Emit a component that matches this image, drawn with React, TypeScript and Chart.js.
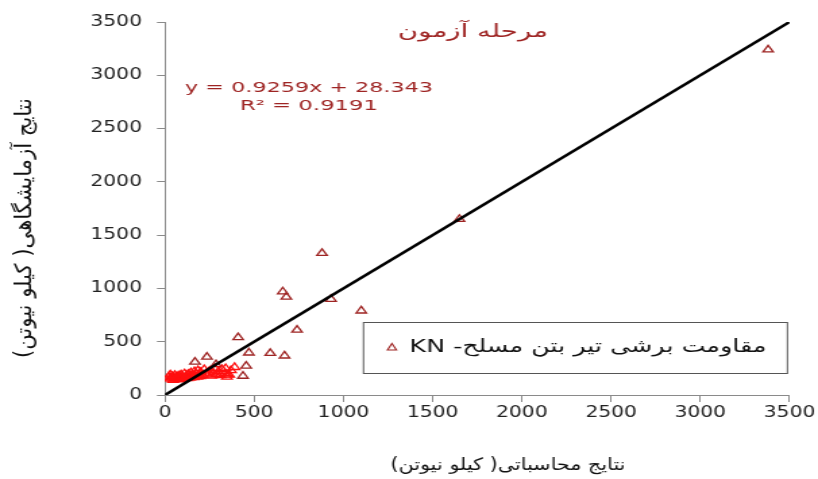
import React, { useEffect, useRef } from 'react';
import { Chart, registerables } from 'chart.js';

Chart.register(...registerables);

// calculated values (x) and laboratory values (y), kN
const calcX = [
  3380, 1650, 880, 660, 680, 930, 1100, 740, 410, 590, 470, 670, 455, 437, 340, 168, 235, 286, 360, 347,
  20, 25, 30, 35, 40, 45, 50, 55, 60, 65, 70, 75, 80, 85, 90, 95, 100, 105, 110, 115,
  120, 125, 130, 135, 140, 145, 150, 155, 160, 165, 170, 175, 180, 185, 190, 195, 200, 210,
  220, 230, 240, 250, 260, 270, 280, 290, 300, 310, 320, 335, 350, 370, 390,
];
const labY = [
  3240, 1650, 1330, 970, 920, 900, 790, 610, 540, 392, 396, 368, 272, 178, 250, 310, 357, 287, 188, 170,
  170, 150, 190, 160, 175, 140, 165, 185, 150, 170, 155, 180, 145, 165, 190, 160, 175, 150, 200, 165,
  180, 155, 195, 170, 160, 210, 175, 190, 165, 220, 180, 200, 170, 230, 190, 175, 215, 185,
  240, 200, 190, 225, 180, 210, 250, 195, 220, 185, 240, 205, 190, 230, 260,
];
// 1:1 reference line
const lineX = [0, 3500];
const lineY = [0, 3500];

const axisMin = 0;
const axisMax = 3500;
const axisStep = 500;

const seriesLabel = 'مقاومت برشی تیر بتن مسلح- KN';
const titleText = 'مرحله آزمون';
const eqText = 'y = 0.9259x + 28.343';
const r2Text = 'R² = 0.9191';
const xTitle = 'نتایج محاسباتی( کیلو نیوتن)';
const yTitle = 'نتایج آزمایشگاهی( کیلو نیوتن)';

const RED = '#9e2423';
const BRIGHT = '#ff1010';
const FONT = '"DejaVu Sans", Verdana, sans-serif';

// the whole picture is horizontally stretched, as in the reference
const W = 818;
const H = 479;
const S = 1.35;
const CW = Math.round(W / S);
const px = (v: number) => v / S;

function stretchText(
  ctx: CanvasRenderingContext2D,
  text: string,
  cx: number,
  cy: number,
  font: string,
  color: string,
  width: number,
  rtl: boolean,
  rotate = 0
) {
  ctx.save();
  ctx.font = font;
  ctx.fillStyle = color;
  ctx.textAlign = 'center';
  ctx.textBaseline = 'middle';
  (ctx as any).direction = rtl ? 'rtl' : 'ltr';
  const w = ctx.measureText(text).width;
  const sx = w > 0 ? width / w : 1;
  ctx.translate(cx, cy);
  ctx.rotate(rotate);
  ctx.scale(sx, 1);
  ctx.fillText(text, 0, 0);
  ctx.restore();
}

const annotations = {
  id: 'annotations',
  afterDraw(chart: any) {
    const ctx = chart.ctx as CanvasRenderingContext2D;
    stretchText(ctx, titleText, px(473), 32, `18px ${FONT}`, RED, px(150), true);
    stretchText(ctx, eqText, px(309), 88, `14.5px ${FONT}`, RED, px(248), false);
    stretchText(ctx, r2Text, px(309), 106, `14.5px ${FONT}`, RED, px(138), false);
    // legend
    ctx.save();
    ctx.fillStyle = '#ffffff';
    ctx.fillRect(px(363.5), 322.5, px(424), 51);
    ctx.strokeStyle = '#555555';
    ctx.lineWidth = 1;
    ctx.strokeRect(px(363.5), 322.5, px(424), 51);
    ctx.beginPath();
    ctx.moveTo(px(392), 343.5);
    ctx.lineTo(px(396.5), 350);
    ctx.lineTo(px(387.5), 350);
    ctx.closePath();
    ctx.strokeStyle = RED;
    ctx.lineWidth = 1.1;
    ctx.stroke();
    ctx.restore();
    stretchText(ctx, seriesLabel, px(588), 347, `18px ${FONT}`, '#111111', px(357), true);
    // axis titles
    stretchText(ctx, xTitle, px(508), 466, `17px ${FONT}`, '#111111', px(235), true);
    stretchText(ctx, yTitle, px(25), 228, `17px ${FONT}`, '#111111', 260, true, -Math.PI / 2);
  },
};

export default function App() {
  const ref = useRef<HTMLCanvasElement | null>(null);
  useEffect(() => {
    if (!ref.current) return;
    const points = calcX.map((x, i) => ({ x, y: labY[i] }));
    const line = lineX.map((x, i) => ({ x, y: lineY[i] }));
    const chart = new Chart(ref.current, {
      type: 'scatter',
      data: {
        datasets: [
          {
            type: 'line',
            label: 'line',
            data: line,
            borderColor: '#000000',
            borderWidth: 2.6,
            pointRadius: 0,
            showLine: true,
            fill: false,
          } as any,
          {
            label: seriesLabel,
            data: points,
            pointStyle: 'triangle',
            pointRadius: 4.4,
            pointBorderWidth: 1.3,
            pointBackgroundColor: 'rgba(255,255,255,0)',
            pointBorderColor: (c: any) => {
              const p = c.raw;
              return p && p.x < 400 && p.y < 265 ? BRIGHT : RED;
            },
          },
        ],
      },
      options: {
        animation: false,
        responsive: false,
        devicePixelRatio: 1,
        layout: { padding: { left: 0, right: px(28), top: 22, bottom: 0 } },
        plugins: { legend: { display: false }, tooltip: { enabled: false }, title: { display: false } },
        scales: {
          x: {
            type: 'linear',
            min: axisMin,
            max: axisMax,
            ticks: {
              stepSize: axisStep,
              color: '#222222',
              font: { family: FONT, size: 15 },
              padding: 2,
              maxRotation: 0,
              callback: (v: any) => String(v),
            },
            grid: { drawOnChartArea: false, drawTicks: true, tickLength: 7, color: '#8a8a8a' },
            border: { display: true, color: '#8a8a8a', width: 1 },
            afterFit: (s: any) => { s.height = H - 395; },
          },
          y: {
            type: 'linear',
            min: axisMin,
            max: axisMax,
            ticks: {
              stepSize: axisStep,
              color: '#222222',
              font: { family: FONT, size: 15 },
              padding: px(15),
              callback: (v: any) => String(v),
            },
            grid: { drawOnChartArea: false, drawTicks: true, tickLength: px(8), color: '#8a8a8a' },
            border: { display: true, color: '#8a8a8a', width: 1 },
            afterFit: (s: any) => { s.width = px(165); },
          },
        },
      },
      plugins: [annotations],
    });
    return () => chart.destroy();
  }, []);
  return (
    <div style={{ position: 'absolute', left: 0, top: 0, width: W, height: H, background: '#ffffff' }}>
      <canvas ref={ref} width={CW} height={H} style={{ width: `${W}px`, height: `${H}px`, display: 'block' }} />
    </div>
  );
}
